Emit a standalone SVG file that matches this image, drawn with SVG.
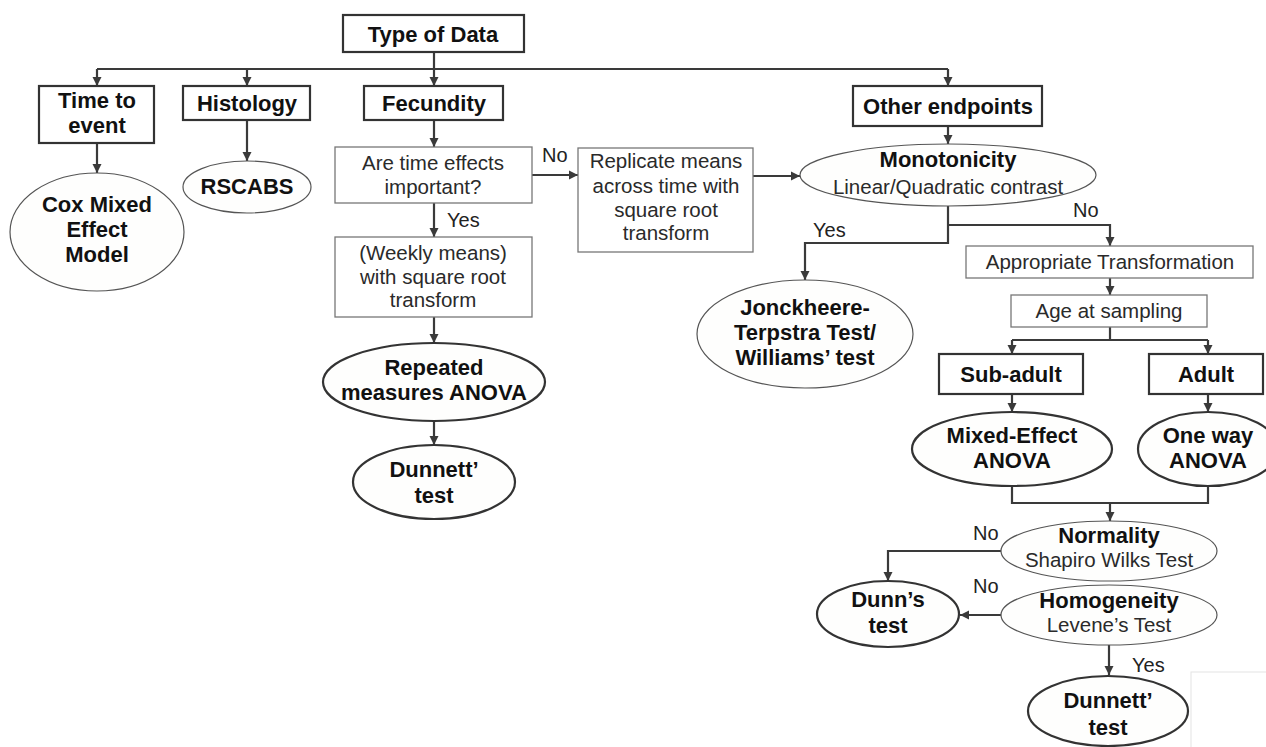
<svg xmlns="http://www.w3.org/2000/svg" width="1266" height="747" viewBox="0 0 1266 747">
<defs>
<marker id="ah" markerUnits="userSpaceOnUse" markerWidth="10" markerHeight="10" refX="9" refY="5" orient="auto">
<path d="M0,0.5 L9,5 L0,9.5 z" fill="#3a3a3a"/>
</marker>
<style>
.bx{fill:#fff;stroke:#333;stroke-width:2.2}
.rb{fill:#fff;stroke:#777;stroke-width:1.3}
.el{fill:#fefefd;stroke:#555;stroke-width:1.2}
.eb{fill:#fefefd;stroke:#333;stroke-width:2.2}
.b{font-family:"Liberation Sans",Arial,sans-serif;font-weight:bold;font-size:22px;fill:#111;text-anchor:middle}
.r{font-family:"Liberation Sans",Arial,sans-serif;font-size:20.5px;fill:#2a2a2a;text-anchor:middle}
.lb{font-family:"Liberation Sans",Arial,sans-serif;font-size:20px;fill:#222}
.c{fill:none;stroke:#3a3a3a;stroke-width:2.2}
.a{fill:none;stroke:#3a3a3a;stroke-width:2.2;marker-end:url(#ah)}
</style>
</defs>
<rect width="1266" height="747" fill="#fff"/>
<rect x="1191" y="672" width="80" height="80" fill="#fff" stroke="#e4e4e4" stroke-width="1"/>

<g id="connectors">
<path class="c" d="M97,69 H948"/>
<path class="a" d="M434,52 V86"/>
<path class="a" d="M97,69 V86"/>
<path class="a" d="M247,69 V86"/>
<path class="a" d="M948,69 V86"/>
<path class="a" d="M97,143 V173"/>
<path class="a" d="M247,120 V161"/>
<path class="a" d="M434,120 V147"/>
<path class="a" d="M532,175 H578"/>
<path class="a" d="M434,203 V237"/>
<path class="a" d="M434,317 V343"/>
<path class="a" d="M434,422 V445"/>
<path class="a" d="M753,176 H800"/>
<path class="a" d="M948,126 V144"/>
<path class="a" d="M948,206 V243 H805 V280"/>
<path class="a" d="M948,225 H1110 V246"/>
<path class="a" d="M1110,278 V295"/>
<path class="c" d="M1110,327 V340 M1012,340 H1208"/>
<path class="a" d="M1012,340 V354"/>
<path class="a" d="M1208,340 V354"/>
<path class="a" d="M1012,394 V412"/>
<path class="a" d="M1208,394 V412"/>
<path class="c" d="M1012,487 V503 H1208 V487"/>
<path class="a" d="M1110,503 V521"/>
<path class="a" d="M1001,551 H888 V581"/>
<path class="a" d="M1001,615 H960"/>
<path class="a" d="M1109,645 V675"/>
<text class="lb" x="542" y="162">No</text>
<text class="lb" x="447" y="227">Yes</text>
<text class="lb" x="813" y="237">Yes</text>
<text class="lb" x="1073" y="217">No</text>
<text class="lb" x="973" y="540">No</text>
<text class="lb" x="973" y="593">No</text>
<text class="lb" x="1132" y="672">Yes</text>
</g>

<g id="type-of-data"><rect class="bx" x="343" y="15" width="181" height="37"/><text class="b" x="433" y="42">Type of Data</text></g>
<g id="time-to-event"><rect class="bx" x="39" y="86" width="115" height="57"/><text class="b" x="97" y="108">Time to</text><text class="b" x="97" y="133">event</text></g>
<g id="histology"><rect class="bx" x="183" y="86" width="127" height="34"/><text class="b" x="247" y="111">Histology</text></g>
<g id="fecundity"><rect class="bx" x="364" y="86" width="139" height="34"/><text class="b" x="434" y="111">Fecundity</text></g>
<g id="other-endpoints"><rect class="bx" x="853" y="86" width="189" height="40"/><text class="b" x="948" y="114">Other endpoints</text></g>

<g id="cox"><ellipse class="el" cx="97" cy="232" rx="87" ry="59"/><text class="b" x="97" y="212">Cox Mixed</text><text class="b" x="97" y="237">Effect</text><text class="b" x="97" y="262">Model</text></g>
<g id="rscabs"><ellipse class="el" cx="247" cy="187" rx="64" ry="26"/><text class="b" x="247" y="194">RSCABS</text></g>

<g id="time-effects"><rect class="rb" x="335" y="147" width="197" height="56"/><text class="r" x="433" y="170">Are time effects</text><text class="r" x="433" y="194">important?</text></g>
<g id="replicate"><rect class="rb" x="578" y="148" width="175" height="104"/><text class="r" x="666" y="168">Replicate means</text><text class="r" x="666" y="193">across time with</text><text class="r" x="666" y="217">square root</text><text class="r" x="666" y="240">transform</text></g>
<g id="weekly"><rect class="rb" x="335" y="237" width="197" height="80"/><text class="r" x="433" y="260">(Weekly means)</text><text class="r" x="433" y="284">with square root</text><text class="r" x="433" y="307">transform</text></g>
<g id="repeated"><ellipse class="eb" cx="434" cy="382" rx="111" ry="39"/><text class="b" x="434" y="375">Repeated</text><text class="b" x="434" y="400">measures ANOVA</text></g>
<g id="dunnett-1"><ellipse class="eb" cx="434" cy="482" rx="81" ry="37"/><text class="b" x="434" y="477">Dunnett’</text><text class="b" x="434" y="503">test</text></g>

<g id="monotonicity"><ellipse class="el" cx="948" cy="175" rx="148" ry="31"/><text class="b" x="948" y="167">Monotonicity</text><text class="r" x="948" y="194">Linear/Quadratic contrast</text></g>
<g id="jonckheere"><ellipse class="el" cx="805" cy="334" rx="108" ry="54"/><text class="b" x="805" y="315">Jonckheere-</text><text class="b" x="805" y="340">Terpstra Test/</text><text class="b" x="805" y="365">Williams’ test</text></g>
<g id="appropriate"><rect class="rb" x="966" y="246" width="287" height="32"/><text class="r" x="1110" y="269">Appropriate Transformation</text></g>
<g id="age"><rect class="rb" x="1011" y="295" width="196" height="32"/><text class="r" x="1109" y="318">Age at sampling</text></g>
<g id="sub-adult"><rect class="bx" x="939" y="354" width="144" height="40"/><text class="b" x="1011" y="382">Sub-adult</text></g>
<g id="adult"><rect class="bx" x="1149" y="354" width="114" height="40"/><text class="b" x="1206" y="382">Adult</text></g>
<g id="mixed-effect"><ellipse class="eb" cx="1012" cy="449" rx="100" ry="37"/><text class="b" x="1012" y="443">Mixed-Effect</text><text class="b" x="1012" y="468">ANOVA</text></g>
<g id="one-way"><ellipse class="eb" cx="1208" cy="449" rx="70" ry="37"/><text class="b" x="1208" y="443">One way</text><text class="b" x="1208" y="468">ANOVA</text></g>
<g id="normality"><ellipse class="el" cx="1109" cy="551" rx="108" ry="30"/><text class="b" x="1109" y="543">Normality</text><text class="r" x="1109" y="567">Shapiro Wilks Test</text></g>
<g id="homogeneity"><ellipse class="el" cx="1109" cy="615" rx="108" ry="30"/><text class="b" x="1109" y="608">Homogeneity</text><text class="r" x="1109" y="632">Levene’s Test</text></g>
<g id="dunns"><ellipse class="eb" cx="888" cy="614" rx="71" ry="33"/><text class="b" x="888" y="607">Dunn’s</text><text class="b" x="888" y="633">test</text></g>
<g id="dunnett-2"><ellipse class="eb" cx="1108" cy="711" rx="80" ry="35"/><text class="b" x="1108" y="708">Dunnett’</text><text class="b" x="1108" y="735">test</text></g>
</svg>
